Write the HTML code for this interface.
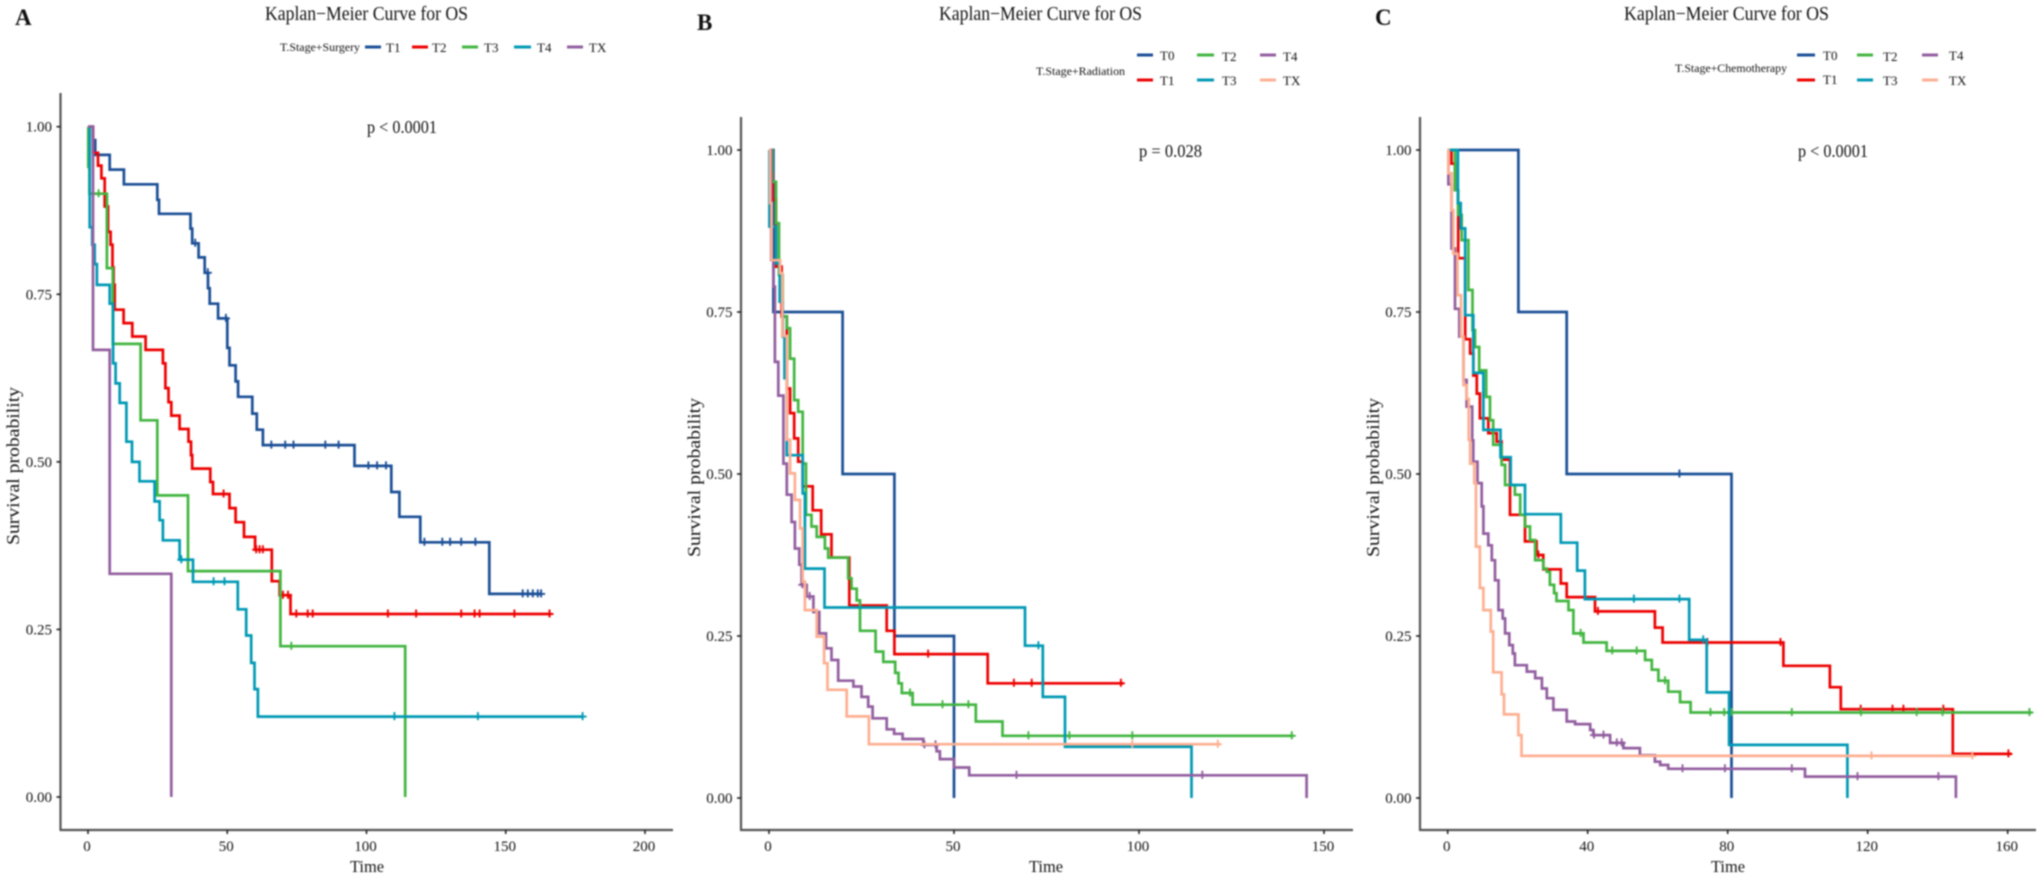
<!DOCTYPE html>
<html lang="en">
<head>
<meta charset="utf-8">
<title>Kaplan-Meier Curves for OS</title>
<style>
html,body{margin:0;padding:0;background:#fff;width:2044px;height:879px;overflow:hidden}
svg{display:block;filter:blur(.7px)}
text{font-family:"Liberation Serif",serif;fill:#111}
</style>
</head>
<body>
<svg id="figure" xmlns="http://www.w3.org/2000/svg" width="2044" height="879" viewBox="0 0 2044 879">
<rect width="2044" height="879" fill="#fff"/>

<g>
<text x="15" y="25" font-size="23" font-weight="bold" style="fill:#111">A</text>
<text x="265" y="20" font-size="20" textLength="203" lengthAdjust="spacingAndGlyphs">Kaplan−Meier Curve for OS</text>
<text x="367" y="133" font-size="18" textLength="70" lengthAdjust="spacingAndGlyphs">p &lt; 0.0001</text>
<text x="280" y="51" font-size="12" textLength="80" lengthAdjust="spacingAndGlyphs">T.Stage+Surgery</text>
<line x1="365" x2="381" y1="47" y2="47" stroke="#1b4f96" stroke-width="3"/>
<text x="386" y="52" font-size="13">T1</text>
<line x1="412" x2="428" y1="47" y2="47" stroke="#ed0000" stroke-width="3"/>
<text x="432" y="52" font-size="13">T2</text>
<line x1="462" x2="478" y1="47" y2="47" stroke="#42b540" stroke-width="3"/>
<text x="484" y="52" font-size="13">T3</text>
<line x1="514" x2="531" y1="47" y2="47" stroke="#0099b4" stroke-width="3"/>
<text x="537" y="52" font-size="13">T4</text>
<line x1="567" x2="583" y1="47" y2="47" stroke="#925e9f" stroke-width="3"/>
<text x="589" y="52" font-size="13">TX</text>
<text x="350" y="872" font-size="17" textLength="34" lengthAdjust="spacingAndGlyphs">Time</text>
<text transform="translate(19,545) rotate(-90)" font-size="18" textLength="158" lengthAdjust="spacingAndGlyphs">Survival probability</text>
</g>

<g>
<text x="697" y="30" font-size="23" font-weight="bold" style="fill:#111">B</text>
<text x="939" y="20" font-size="20" textLength="203" lengthAdjust="spacingAndGlyphs">Kaplan−Meier Curve for OS</text>
<text x="1139" y="157" font-size="18" textLength="63" lengthAdjust="spacingAndGlyphs">p = 0.028</text>
<text x="1036" y="75" font-size="12" textLength="89" lengthAdjust="spacingAndGlyphs">T.Stage+Radiation</text>
<line x1="1137" x2="1153" y1="55" y2="55" stroke="#1b4f96" stroke-width="3"/>
<text x="1160" y="60" font-size="13">T0</text>
<line x1="1137" x2="1153" y1="80" y2="80" stroke="#ed0000" stroke-width="3"/>
<text x="1160" y="85" font-size="13">T1</text>
<line x1="1197" x2="1214" y1="55" y2="55" stroke="#42b540" stroke-width="3"/>
<text x="1222" y="61" font-size="13">T2</text>
<line x1="1197" x2="1214" y1="80" y2="80" stroke="#0099b4" stroke-width="3"/>
<text x="1222" y="85" font-size="13">T3</text>
<line x1="1260" x2="1276" y1="55" y2="55" stroke="#925e9f" stroke-width="3"/>
<text x="1283" y="61" font-size="13">T4</text>
<line x1="1260" x2="1276" y1="80" y2="80" stroke="#fdaf91" stroke-width="3"/>
<text x="1283" y="85" font-size="13">TX</text>
<text x="1029" y="872" font-size="17" textLength="34" lengthAdjust="spacingAndGlyphs">Time</text>
<text transform="translate(700,557) rotate(-90)" font-size="18" textLength="159" lengthAdjust="spacingAndGlyphs">Survival probability</text>
</g>

<g>
<text x="1375" y="25" font-size="23" font-weight="bold" style="fill:#111">C</text>
<text x="1624" y="20" font-size="20" textLength="205" lengthAdjust="spacingAndGlyphs">Kaplan−Meier Curve for OS</text>
<text x="1798" y="157" font-size="18" textLength="70" lengthAdjust="spacingAndGlyphs">p &lt; 0.0001</text>
<text x="1675" y="72" font-size="12" textLength="112" lengthAdjust="spacingAndGlyphs">T.Stage+Chemotherapy</text>
<line x1="1797" x2="1815" y1="55" y2="55" stroke="#1b4f96" stroke-width="3"/>
<text x="1823" y="60" font-size="13">T0</text>
<line x1="1797" x2="1815" y1="80" y2="80" stroke="#ed0000" stroke-width="3"/>
<text x="1823" y="84" font-size="13">T1</text>
<line x1="1857" x2="1873" y1="55" y2="55" stroke="#42b540" stroke-width="3"/>
<text x="1883" y="61" font-size="13">T2</text>
<line x1="1857" x2="1873" y1="80" y2="80" stroke="#0099b4" stroke-width="3"/>
<text x="1883" y="85" font-size="13">T3</text>
<line x1="1922" x2="1938" y1="55" y2="55" stroke="#925e9f" stroke-width="3"/>
<text x="1949" y="60" font-size="13">T4</text>
<line x1="1922" x2="1938" y1="80" y2="80" stroke="#fdaf91" stroke-width="3"/>
<text x="1949" y="85" font-size="13">TX</text>
<text x="1711" y="872" font-size="17" textLength="34" lengthAdjust="spacingAndGlyphs">Time</text>
<text transform="translate(1379,557) rotate(-90)" font-size="18" textLength="159" lengthAdjust="spacingAndGlyphs">Survival probability</text>
</g>
</svg>

<script>
// ---------- tick labels ----------
const yTicks = [0, 0.25, 0.5, 0.75, 1];
const yTickLabels = ['0.00', '0.25', '0.50', '0.75', '1.00'];
const xTicksA = [0, 50, 100, 150, 200];
const xTicksB = [0, 50, 100, 150];
const xTicksC = [0, 40, 80, 120, 160];

// ---------- Panel A : Surgery ----------
const aT1Times = [1.8, 2.6, 7.8, 12.9, 24.9, 25.5, 36.8, 37.4, 39.7, 41.9, 43.1, 43.7, 46.7, 50, 50.8, 53, 53.9, 59, 60.6, 62.8, 95.7, 108.9, 111.8, 119.3, 144.1];
const aT1Surv = [0.98, 0.958, 0.936, 0.914, 0.891, 0.87, 0.848, 0.826, 0.805, 0.782, 0.759, 0.736, 0.714, 0.67, 0.644, 0.62, 0.597, 0.572, 0.548, 0.525, 0.494, 0.455, 0.418, 0.38, 0.303];
const aT1Censor = [38.5, 43, 49.5, 65.8, 70.8, 73.8, 85.2, 90, 100.7, 103.8, 107, 120.8, 127.2, 130, 134, 139.1, 156.1, 157.9, 159.7, 161.5, 162.7];
const aT1End = 162.7;

const aT2Times = [1.8, 3.6, 4.8, 6, 7.2, 8.1, 8.8, 9.2, 9.6, 12.8, 15.9, 20.7, 26.9, 27.8, 28.9, 29.9, 32.9, 36.1, 37, 37.4, 43.9, 44.9, 50.8, 53, 56, 60, 66, 68.8, 72.7];
const aT2Surv = [0.961, 0.942, 0.923, 0.881, 0.843, 0.824, 0.79, 0.764, 0.727, 0.707, 0.687, 0.667, 0.647, 0.61, 0.589, 0.569, 0.549, 0.53, 0.51, 0.49, 0.47, 0.452, 0.431, 0.41, 0.388, 0.369, 0.322, 0.301, 0.273];
const aT2Censor = [48.7, 60.4, 61.6, 62.8, 70, 71.8, 74.8, 78.9, 80.7, 107.7, 117.8, 134, 138.8, 140.6, 153.1, 165.7];
const aT2End = 166.3;

const aT3Times = [0.1, 0.5, 6.8, 8.9, 18.9, 24.9, 35.9, 69.1, 113.9];
const aT3Surv = [0.94, 0.9, 0.789, 0.676, 0.562, 0.45, 0.337, 0.225, 0];
const aT3Censor = [3.8, 73];
const aT3End = 113.9;

const aT4Times = [0.6, 1.5, 2.4, 3.2, 7.8, 9, 9.9, 11.4, 13.8, 15.8, 18.5, 23.9, 25.7, 26.9, 32.9, 37.7, 53.8, 56.8, 58.6, 59.8, 61];
const aT4Surv = [0.85, 0.824, 0.795, 0.764, 0.736, 0.647, 0.617, 0.588, 0.53, 0.5, 0.471, 0.441, 0.413, 0.383, 0.354, 0.321, 0.28, 0.241, 0.2, 0.161, 0.12];
const aT4Censor = [33.5, 45.1, 49, 110, 140, 177.6];
const aT4End = 177.6;

const aTXTimes = [1.8, 7.8, 29.9];
const aTXSurv = [0.667, 0.333, 0];
const aTXCensor = [];
const aTXEnd = 29.9;

// ---------- Panel B : Radiation ----------
const bT0Times = [1.2, 19.9, 33.9, 50];
const bT0Surv = [0.75, 0.5, 0.25, 0];
const bT0Censor = [];
const bT0End = 50;

const bT1Times = [0.45, 1, 1.9, 3.4, 4.8, 5.7, 6.8, 7.9, 9.1, 11.8, 14.1, 16.9, 21.7, 31.8, 33.9, 59.1];
const bT1Surv = [0.964, 0.923, 0.82, 0.743, 0.632, 0.594, 0.555, 0.519, 0.481, 0.444, 0.407, 0.371, 0.297, 0.258, 0.222, 0.177];
const bT1Censor = [43, 66.2, 71, 74.1, 95.1];
const bT1End = 95.8;

const bT2Times = [0.9, 1.9, 2.7, 3.7, 4.8, 5.7, 6.8, 7.9, 9.1, 10, 11.5, 12.9, 15.1, 16, 21.4, 22.3, 23.7, 24.6, 28.8, 30.9, 34.1, 35, 35.9, 38.8, 55.9, 63.1];
const bT2Surv = [0.951, 0.887, 0.807, 0.743, 0.725, 0.678, 0.614, 0.596, 0.516, 0.437, 0.419, 0.403, 0.385, 0.371, 0.339, 0.323, 0.305, 0.258, 0.226, 0.21, 0.193, 0.177, 0.162, 0.144, 0.118, 0.096];
const bT2Censor = [38.1, 46.9, 53.9, 70.1, 81.2, 98.2, 141.3];
const bT2End = 141.7;

const bT3Times = [0.1, 1.9, 2.9, 3.7, 4.2, 4.8, 9.1, 9.7, 15, 69.2, 74, 80, 114.2];
const bT3Surv = [0.882, 0.825, 0.766, 0.712, 0.648, 0.529, 0.47, 0.354, 0.294, 0.235, 0.156, 0.079, 0];
const bT3Censor = [72.8];
const bT3End = 114.2;

const bT4Times = [0.6, 1.2, 1.6, 2.5, 3.9, 4.8, 6.1, 7, 8.2, 8.8, 10.2, 12, 13.6, 15.4, 16.9, 18.7, 22.8, 25, 26.8, 28, 31.8, 33.8, 36.1, 41.7, 45.3, 46.2, 50, 54.1, 145.3];
const bT4Surv = [0.83, 0.789, 0.673, 0.621, 0.516, 0.468, 0.426, 0.385, 0.36, 0.329, 0.311, 0.287, 0.254, 0.231, 0.213, 0.181, 0.172, 0.156, 0.141, 0.123, 0.106, 0.099, 0.091, 0.082, 0.072, 0.06, 0.047, 0.035, 0];
const bT4Censor = [9, 11, 42, 45, 66.9, 117.1];
const bT4End = 145.3;

const bTXTimes = [0.3, 0.7, 3, 3.6, 4.8, 5.7, 7, 8.4, 9.1, 9.7, 12.9, 14.9, 15.8, 21, 27];
const bTXSurv = [0.918, 0.83, 0.81, 0.713, 0.553, 0.501, 0.46, 0.416, 0.334, 0.29, 0.249, 0.208, 0.167, 0.126, 0.083];
const bTXCensor = [98.2, 121.3];
const bTXEnd = 121.9;

// ---------- Panel C : Chemotherapy ----------
const cT0Times = [20.2, 34, 81.1];
const cT0Surv = [0.75, 0.5, 0];
const cT0Censor = [66.2];
const cT0End = 81.1;

const cT1Times = [1.1, 2.1, 3, 5, 6.4, 7.3, 8.3, 9.2, 11.6, 14, 15.4, 17.8, 22.1, 25.4, 27.3, 32.3, 34, 42.1, 59.2, 61.4, 95.9, 109.2, 112.3, 144.3];
const cT1Surv = [0.979, 0.938, 0.833, 0.708, 0.686, 0.652, 0.624, 0.586, 0.563, 0.55, 0.522, 0.437, 0.396, 0.375, 0.353, 0.331, 0.31, 0.288, 0.263, 0.24, 0.204, 0.171, 0.137, 0.068];
const cT1Censor = [25.9, 42.9, 74.2, 95.1, 118, 127.1, 130.2, 141.6, 160.2];
const cT1End = 161.1;

const cT2Times = [2.1, 3, 4, 5.9, 7.1, 7.8, 9, 11, 12.1, 13, 15.4, 16.4, 19.2, 20.7, 22.1, 23.5, 25, 27.3, 28.3, 29.2, 30.4, 31.1, 34.5, 35.9, 38.8, 45.4, 56.4, 58.3, 60.2, 63, 66.4, 69.4];
const cT2Surv = [0.938, 0.9, 0.861, 0.784, 0.722, 0.696, 0.66, 0.619, 0.583, 0.545, 0.514, 0.483, 0.468, 0.437, 0.419, 0.398, 0.367, 0.354, 0.349, 0.329, 0.316, 0.304, 0.29, 0.254, 0.24, 0.227, 0.213, 0.198, 0.181, 0.164, 0.148, 0.132];
const cT2Censor = [38, 47, 54, 62.1, 75.1, 79, 81.1, 98.3, 118.1, 134, 141.4, 166.2];
const cT2End = 166.8;

const cT3Times = [2.9, 3.7, 5, 7.3, 10.2, 15.1, 18, 22.1, 32.3, 37, 39.2, 69, 74, 80.4, 114.2];
const cT3Surv = [0.918, 0.879, 0.745, 0.656, 0.568, 0.526, 0.483, 0.438, 0.394, 0.351, 0.307, 0.244, 0.163, 0.082, 0];
const cT3Censor = [53.2, 66.2, 73];
const cT3End = 114.2;

const cT4Times = [0.2, 1.1, 2.1, 3.3, 4.5, 5.4, 7, 7.3, 8.5, 9.7, 10.2, 11.6, 12.6, 13.5, 14.5, 15.7, 16.4, 17.6, 18.6, 19.2, 22.6, 25, 26.9, 28.3, 30.2, 34, 36.4, 40.7, 41.6, 46.4, 50.2, 54.9, 59.2, 60.7, 63, 102.1, 145.2];
const cT4Surv = [0.947, 0.848, 0.755, 0.712, 0.645, 0.604, 0.552, 0.519, 0.486, 0.45, 0.408, 0.39, 0.367, 0.336, 0.29, 0.277, 0.254, 0.236, 0.223, 0.205, 0.195, 0.185, 0.169, 0.154, 0.136, 0.118, 0.114, 0.105, 0.097, 0.085, 0.077, 0.066, 0.056, 0.051, 0.045, 0.033, 0];
const cT4Censor = [41.8, 44.5, 48.3, 49.7, 67.1, 79.2, 98.3, 117.1, 140.2];
const cT4End = 145.2;

const cTXTimes = [0.2, 1.1, 1.6, 2.8, 3.8, 4.5, 5.4, 6, 6.4, 7.6, 8.1, 9.2, 10.2, 12.3, 13, 15.4, 16.1, 20.2, 21.1];
const cTXSurv = [0.964, 0.907, 0.84, 0.776, 0.712, 0.637, 0.616, 0.553, 0.516, 0.486, 0.388, 0.324, 0.29, 0.257, 0.194, 0.16, 0.129, 0.097, 0.065];
const cTXCensor = [121.1, 149.9];
const cTXEnd = 150.2;

// ---------- rendering ----------
const NS = 'http://www.w3.org/2000/svg';
const figure = document.getElementById('figure');
const NAVY = '#1b4f96', RED = '#ed0000', GREEN = '#42b540', TEAL = '#0099b4', PURPLE = '#925e9f', SALMON = '#fdaf91';

function make(tag, parent, attrs) {
  const el = document.createElementNS(NS, tag);
  for (const k in attrs) el.setAttribute(k, attrs[k]);
  parent.appendChild(el);
  return el;
}

function survivalAt(times, surv, t) {
  let s = 1;
  for (let i = 0; i < times.length; i++) { if (times[i] <= t) s = surv[i]; }
  return s;
}

function drawPanel(id, cfg, xTicks, series) {
  const xScale = t => cfg.x0 + t * cfg.kx;
  const yScale = s => cfg.y0 - s * cfg.ky;
  const g = make('g', figure, {});
  
  

  const yAxis = make('line', g, {x1: cfg.left, x2: cfg.left, y1: cfg.top, y2: cfg.bottom, stroke: '#555', 'stroke-width': 2.2});
  
  
  const xAxis = make('line', g, {x1: cfg.left - 1, x2: cfg.right, y1: cfg.bottom, y2: cfg.bottom, stroke: '#555', 'stroke-width': 2.2});
  
  

  yTicks.forEach((v, i) => {
    const tick = make('line', g, {x1: cfg.left - 4, x2: cfg.left, y1: yScale(v), y2: yScale(v), stroke: '#222', 'stroke-width': 1.6});
    
    
    const lab = make('text', g, {x: cfg.left - 8.5, y: yScale(v) + 5, 'text-anchor': 'end', 'font-size': 15});
    
    
    lab.textContent = yTickLabels[i];
  });
  xTicks.forEach(v => {
    const tick = make('line', g, {x1: xScale(v), x2: xScale(v), y1: cfg.bottom, y2: cfg.bottom + 4, stroke: '#222', 'stroke-width': 1.6});
    
    
    const lab = make('text', g, {x: xScale(v) - 1, y: cfg.bottom + 21, 'text-anchor': 'middle', 'font-size': 15});
    
    
    lab.textContent = String(v);
  });

  series.forEach(sr => {
    let d = 'M' + xScale(0).toFixed(1) + ' ' + yScale(1).toFixed(1);
    sr.times.forEach((t, i) => {
      d += 'H' + xScale(t).toFixed(1) + 'V' + yScale(sr.surv[i]).toFixed(1);
    });
    d += 'H' + xScale(sr.end).toFixed(1);
    const line = make('path', g, {d: d, fill: 'none', stroke: sr.color, 'stroke-width': 2.7, 'stroke-linejoin': 'miter', 'stroke-linecap': 'butt'});
    
    
    sr.censor.forEach(t => {
      const cx = xScale(t), cy = yScale(survivalAt(sr.times, sr.surv, t));
      const mark = make('path', g, {d: 'M' + (cx - 4).toFixed(1) + ' ' + cy.toFixed(1) + 'h8M' + cx.toFixed(1) + ' ' + (cy - 4.5).toFixed(1) + 'v8', fill: 'none', stroke: sr.color, 'stroke-width': 1.9});
      
      
    });
  });
}

drawPanel('a', {x0: 88, kx: 2.785, y0: 797, ky: 670.3, left: 60.5, right: 673, top: 93, bottom: 830}, xTicksA, [
  {name: 't1', color: NAVY, times: aT1Times, surv: aT1Surv, censor: aT1Censor, end: aT1End},
  {name: 't2', color: RED, times: aT2Times, surv: aT2Surv, censor: aT2Censor, end: aT2End},
  {name: 't3', color: GREEN, times: aT3Times, surv: aT3Surv, censor: aT3Censor, end: aT3End},
  {name: 't4', color: TEAL, times: aT4Times, surv: aT4Surv, censor: aT4Censor, end: aT4End},
  {name: 'tx', color: PURPLE, times: aTXTimes, surv: aTXSurv, censor: aTXCensor, end: aTXEnd}
]);

drawPanel('b', {x0: 769, kx: 3.70, y0: 798, ky: 648, left: 741, right: 1353, top: 117, bottom: 830}, xTicksB, [
  {name: 't0', color: NAVY, times: bT0Times, surv: bT0Surv, censor: bT0Censor, end: bT0End},
  {name: 't1', color: RED, times: bT1Times, surv: bT1Surv, censor: bT1Censor, end: bT1End},
  {name: 't2', color: GREEN, times: bT2Times, surv: bT2Surv, censor: bT2Censor, end: bT2End},
  {name: 't3', color: TEAL, times: bT3Times, surv: bT3Surv, censor: bT3Censor, end: bT3End},
  {name: 't4', color: PURPLE, times: bT4Times, surv: bT4Surv, censor: bT4Censor, end: bT4End},
  {name: 'tx', color: SALMON, times: bTXTimes, surv: bTXSurv, censor: bTXCensor, end: bTXEnd}
]);

drawPanel('c', {x0: 1447.7, kx: 3.5, y0: 798, ky: 648, left: 1420, right: 2036, top: 117, bottom: 830}, xTicksC, [
  {name: 't0', color: NAVY, times: cT0Times, surv: cT0Surv, censor: cT0Censor, end: cT0End},
  {name: 't1', color: RED, times: cT1Times, surv: cT1Surv, censor: cT1Censor, end: cT1End},
  {name: 't2', color: GREEN, times: cT2Times, surv: cT2Surv, censor: cT2Censor, end: cT2End},
  {name: 't3', color: TEAL, times: cT3Times, surv: cT3Surv, censor: cT3Censor, end: cT3End},
  {name: 't4', color: PURPLE, times: cT4Times, surv: cT4Surv, censor: cT4Censor, end: cT4End},
  {name: 'tx', color: SALMON, times: cTXTimes, surv: cTXSurv, censor: cTXCensor, end: cTXEnd}
]);
</script>
</body>
</html>
